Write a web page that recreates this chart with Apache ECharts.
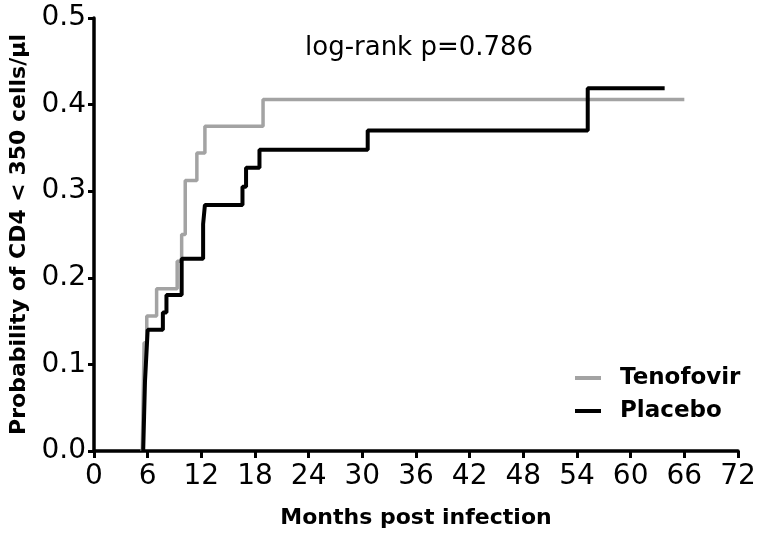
<!DOCTYPE html>
<html><head><meta charset="utf-8">
<script src="https://cdn.jsdelivr.net/npm/echarts@6/dist/echarts.min.js"></script>
<style>html,body{margin:0;padding:0;background:#fff}#c{width:762px;height:537px}</style>
</head><body><div id="c"></div>
<script>
// Kaplan-Meier style cumulative probability (months, probability)
var tenofovirMonths = [5.4, 5.5, 5.6, 5.9, 7.0, 9.3, 9.8, 10.2, 11.5, 12.4, 18.9, 66.0];
var tenofovirProb   = [0, 0.0625, 0.125, 0.156, 0.1875, 0.219, 0.25, 0.3125, 0.344, 0.375, 0.406, 0.406];
var placeboMonths = [5.5, 5.6, 5.7, 5.8, 5.9, 6.0, 7.7, 8.1, 9.8, 12.2, 12.4, 16.6, 17.0, 18.5, 30.6, 55.2, 63.8];
var placeboProb   = [0, 0.04, 0.08, 0.10, 0.12, 0.14, 0.16, 0.18, 0.222, 0.262, 0.284, 0.305, 0.327, 0.348, 0.37, 0.419, 0.419];
var xTicks = [0, 6, 12, 18, 24, 30, 36, 42, 48, 54, 60, 66, 72];
var yTicks = [0.0, 0.1, 0.2, 0.3, 0.4, 0.5];
var seriesNames = ['Tenofovir', 'Placebo'];
var annotation = 'log-rank p=0.786';

function pairs(xs, ys){ return xs.map(function(x,i){ return [x, ys[i]]; }); }
var FONT = '"DejaVu Sans", Arial, sans-serif';
var chart = echarts.init(document.getElementById('c'), null, {renderer:'canvas'});
chart.setOption({
  animation: false,
  backgroundColor: '#fff',
  grid: {left: 92, right: 24, top: 18, bottom: 86, containLabel: false},
  xAxis: {
    type: 'value', min: xTicks[0], max: xTicks[xTicks.length-1], interval: 6,
    name: 'Months post infection', nameLocation: 'middle', nameGap: 56,
    nameTextStyle: {fontFamily: FONT, fontSize: 22, fontWeight: 'bold', color: '#000'},
    axisLine: {lineStyle: {color: '#000', width: 3.5}},
    axisTick: {show: true, length: 7, lineStyle: {color: '#000', width: 3}},
    axisLabel: {fontFamily: FONT, fontSize: 28, color: '#000', margin: 12},
    splitLine: {show: false}
  },
  yAxis: {
    type: 'value', min: yTicks[0], max: yTicks[yTicks.length-1], interval: 0.1,
    name: 'Probability of CD4 < 350 cells/\u00b5l', nameLocation: 'middle', nameGap: 64,
    nameTextStyle: {fontFamily: FONT, fontSize: 22, fontWeight: 'bold', color: '#000'},
    axisLine: {show: true, lineStyle: {color: '#000', width: 3.5}},
    axisTick: {show: true, length: 6, lineStyle: {color: '#000', width: 3}},
    axisLabel: {fontFamily: FONT, fontSize: 28, color: '#000', margin: 8,
      formatter: function(v){ return v.toFixed(1); }},
    splitLine: {show: false}
  },
  legend: {
    orient: 'vertical', left: 570, top: 360, itemWidth: 26, itemHeight: 4, itemGap: 7,
    icon: 'rect',
    textStyle: {fontFamily: FONT, fontSize: 23, fontWeight: 'bold', color: '#000', lineHeight: 26, padding: [0,0,0,14]},
    data: seriesNames
  },
  graphic: [{
    type: 'text', left: 305, top: 35,
    style: {text: annotation, font: '26px ' + FONT, fill: '#000'}
  }],
  series: [
    {name: seriesNames[0], type: 'line', step: 'end', showSymbol: false, symbol: 'none',
     data: pairs(tenofovirMonths, tenofovirProb), color: '#a3a3a3',
     lineStyle: {color: '#a3a3a3', width: 3.5}, z: 2},
    {name: seriesNames[1], type: 'line', step: 'end', showSymbol: false, symbol: 'none',
     data: pairs(placeboMonths, placeboProb), color: '#000',
     lineStyle: {color: '#000', width: 4}, z: 3}
  ]
});
</script></body></html>
